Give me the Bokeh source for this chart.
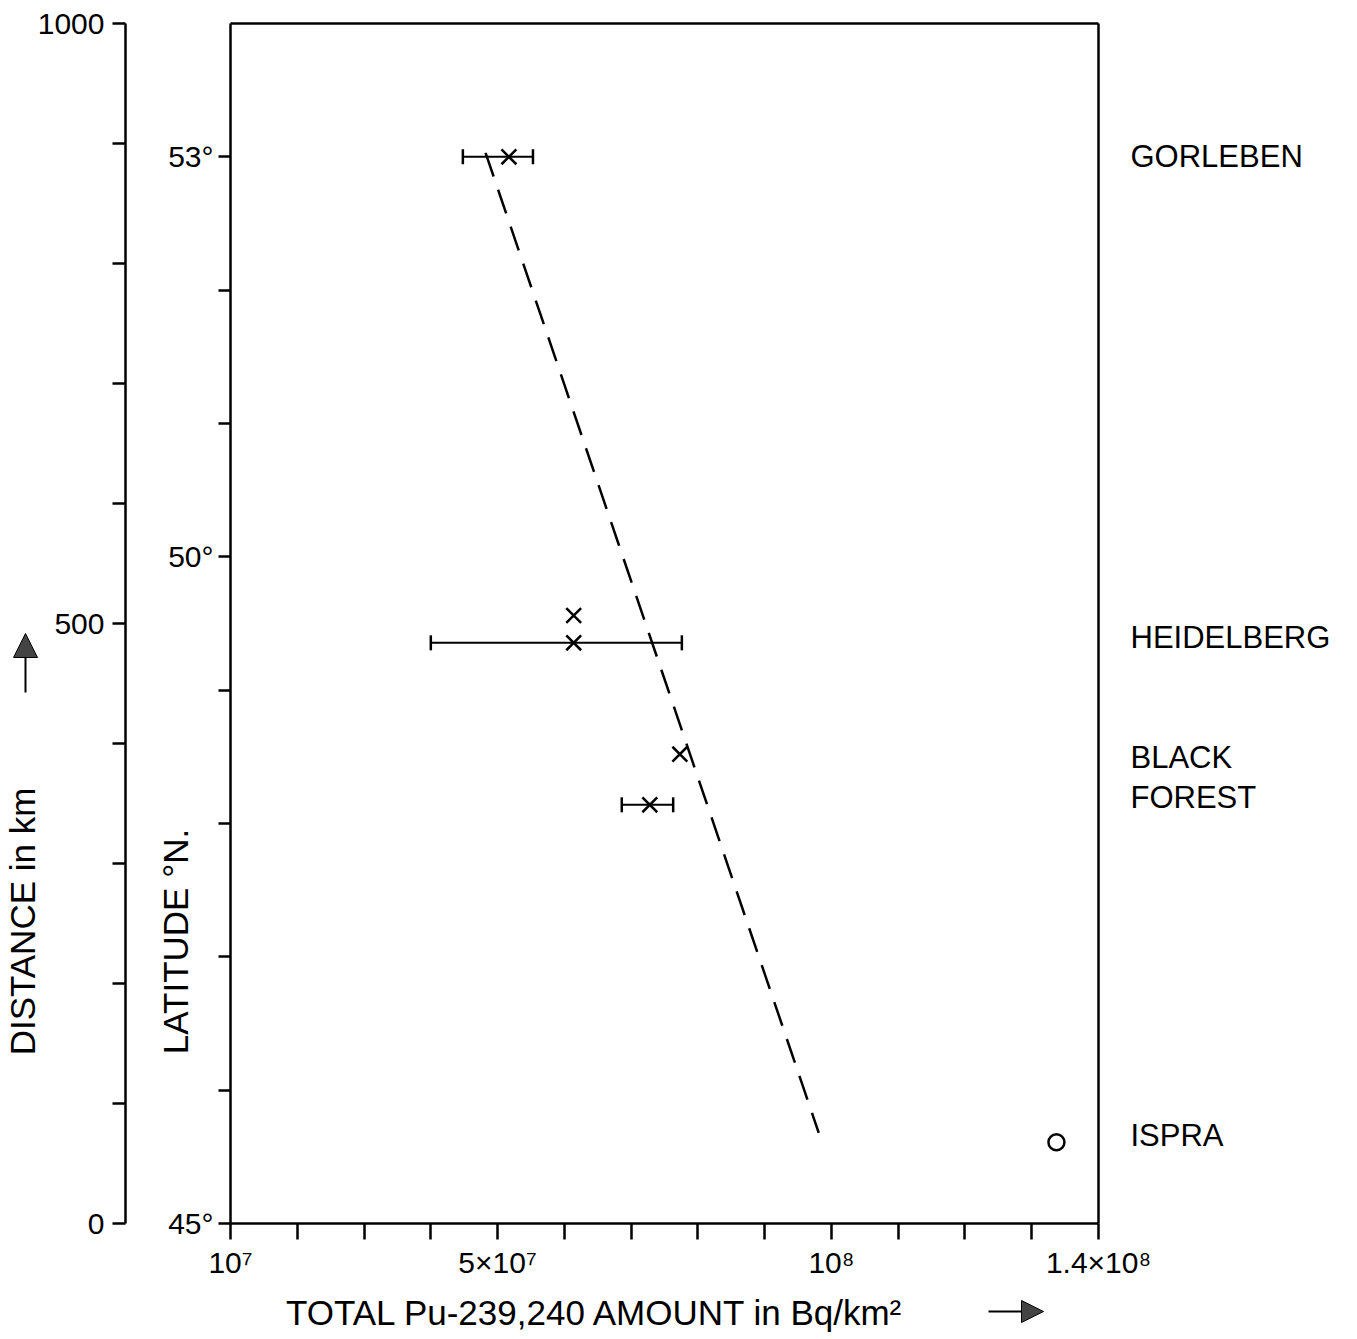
import math
from bokeh.plotting import figure
from bokeh.models import (Range1d, LinearAxis, FixedTicker, Whisker, TeeHead,
                          Label, Arrow, NormalHead, ColumnDataSource)
from bokeh.embed import file_html
from bokeh.resources import INLINE

# ---------------- data ----------------
site_pu = [5.17e7, 6.14e7, 6.14e7, 7.73e7, 7.28e7]        # Bq/km2
site_lat = [53.0, 49.56, 49.355, 48.52, 48.14]             # deg N
bar_lat = [53.0, 49.355, 48.14]
bar_low = [4.48e7, 4.00e7, 6.86e7]
bar_high = [5.53e7, 7.76e7, 7.63e7]
ispra_pu = [1.337e8]
ispra_lat = [45.61]
fit_pu = [4.82e7, 9.81e7]
fit_lat = [53.03, 45.68]
place_names = ["GORLEBEN", "HEIDELBERG", "BLACK", "FOREST", "ISPRA"]
place_lat = [53.0, 49.395, 48.495, 48.195, 45.66]

x_ticks = [1e7 * i for i in range(1, 15)]
x_tick_labels = {1e7: "10⁷", 5e7: "5×10⁷", 1e8: "10⁸", 1.4e8: "1.4×10⁸"}
lat_ticks = list(range(45, 54))
lat_tick_labels = {45: "45°", 50: "50°", 53: "53°"}
dist_ticks = list(range(0, 1001, 100))
dist_tick_labels = {0: "0", 500: "500", 1000: "1000"}

x_title = "TOTAL Pu-239,240 AMOUNT in Bq/km²"
lat_title = "LATITUDE °N."
dist_title = "DISTANCE in km"

# ---------------- layout / styling ----------------
FONT = "Liberation Sans"
INK = "black"
W, H = 1349, 1338
X_LO, X_HI = 1e7, 1.4e8
LAT_LO, LAT_HI = 45, 54
X_LO_PX, X_HI_PX = 230, 1098
LAT_LO_PX, LAT_HI_PX = 1223, 23
PX_PER_X = (X_HI_PX - X_LO_PX) / (X_HI - X_LO)
PX_PER_LAT = (LAT_LO_PX - LAT_HI_PX) / (LAT_HI - LAT_LO)
PX_PER_KM = (LAT_LO_PX - LAT_HI_PX) / 1000.0


def dx(px):
    return X_LO + (px - X_LO_PX) / PX_PER_X


def dy(py):
    return LAT_LO + (LAT_LO_PX - py) / PX_PER_LAT


def dkm(py):
    return (LAT_LO_PX - py) / PX_PER_KM


p = figure(frame_width=W, frame_height=H,
           x_range=Range1d(dx(0), dx(W)), y_range=Range1d(dy(H), dy(0)),
           output_backend="svg", toolbar_location=None, min_border=0)
p.background_fill_color = "white"
p.border_fill_color = "white"
p.grid.visible = False
p.outline_line_color = None
p.extra_y_ranges = {"dist": Range1d(dkm(H), dkm(0))}


def style_axis(ax, ticks, labels, tick_out, standoff, size):
    ax.ticker = FixedTicker(ticks=ticks)
    ax.major_label_overrides = {t: labels.get(t, "") for t in ticks}
    ax.major_tick_out = tick_out
    ax.major_tick_in = 0
    ax.minor_tick_out = 0
    ax.minor_tick_in = 0
    ax.axis_line_color = INK
    ax.axis_line_width = 2.5
    ax.major_tick_line_color = INK
    ax.major_tick_line_width = 2.5
    ax.major_label_text_font = FONT
    ax.major_label_text_font_size = size
    ax.major_label_text_color = INK
    ax.major_label_standoff = standoff


xa = p.xaxis[0]
style_axis(xa, x_ticks, x_tick_labels, 16, 6, "30px")
xa.fixed_location = LAT_LO
xa.bounds = (X_LO, X_HI)

ya = p.yaxis[0]
style_axis(ya, lat_ticks, lat_tick_labels, 12, 5, "30px")
ya.fixed_location = X_LO
ya.bounds = (LAT_LO, LAT_HI)

# box: top and right edges
top = LinearAxis(fixed_location=LAT_HI, bounds=(X_LO, X_HI), ticker=FixedTicker(ticks=[]),
                 axis_line_color=INK, axis_line_width=2.5)
p.add_layout(top, "above")
right = LinearAxis(fixed_location=X_HI, bounds=(LAT_LO, LAT_HI), ticker=FixedTicker(ticks=[]),
                   axis_line_color=INK, axis_line_width=2.5)
p.add_layout(right, "right")

# outer distance axis
da = LinearAxis(y_range_name="dist", fixed_location=dx(125), bounds=(0, 1000))
style_axis(da, dist_ticks, dist_tick_labels, 13, 8, "30px")
p.add_layout(da, "left")

# regression line
p.line(fit_pu, fit_lat, line_color=INK, line_width=2.5, line_dash="25 14")

# error bars
bsrc = ColumnDataSource(dict(base=bar_lat, lower=bar_low, upper=bar_high))
p.add_layout(Whisker(base="base", lower="lower", upper="upper", dimension="width",
                     source=bsrc, line_color=INK, line_width=2,
                     upper_head=TeeHead(size=15, line_width=2.5, line_color=INK),
                     lower_head=TeeHead(size=15, line_width=2.5, line_color=INK)))

# markers
p.scatter(site_pu, site_lat, marker="x", size=21, line_width=2.5, line_color=INK)
p.scatter(ispra_pu, ispra_lat, marker="circle", size=16, fill_color=None,
          line_color=INK, line_width=2.5)

# place names on the right
for name, lat in zip(place_names, place_lat):
    p.add_layout(Label(x=dx(1130), y=lat, text=name, text_align="left",
                       text_baseline="middle", text_font=FONT,
                       text_font_size="31px", text_color=INK))

# axis titles
p.add_layout(Label(x=dx(595), y=dy(1312), text=x_title, text_align="center",
                   text_baseline="middle", text_font=FONT, text_font_size="35px",
                   text_color=INK))
p.add_layout(Label(x=dx(175), y=dy(941), text=lat_title, angle=math.pi / 2,
                   text_align="center", text_baseline="middle", text_font=FONT,
                   text_font_size="35px", text_color=INK))
p.add_layout(Label(x=dx(22), y=dy(921), text=dist_title, angle=math.pi / 2,
                   text_align="center", text_baseline="middle", text_font=FONT,
                   text_font_size="35px", text_color=INK))

# direction arrows
p.add_layout(Arrow(x_start=dx(25), y_start=dy(692), x_end=dx(25), y_end=dy(633),
                   line_color=INK, line_width=2,
                   end=NormalHead(size=24, fill_color="#444444", line_color=INK,
                                  line_width=1)))
p.add_layout(Arrow(x_start=dx(988), y_start=dy(1311), x_end=dx(1043), y_end=dy(1311),
                   line_color=INK, line_width=2,
                   end=NormalHead(size=22, fill_color="#444444", line_color=INK,
                                  line_width=1)))

open("out.html", "w").write(file_html(p, INLINE))
